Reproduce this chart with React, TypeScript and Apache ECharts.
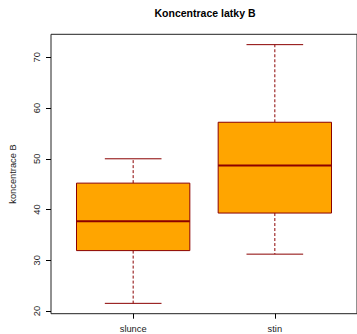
import React, { useEffect, useRef } from "react";
import * as echarts from "echarts";

const categories = ["slunce", "stin"];
const whiskerLow = [21.5, 31.2];
const quartile1 = [31.9, 39.3];
const medians = [37.7, 48.7];
const quartile3 = [45.2, 57.2];
const whiskerHigh = [50.0, 72.5];
const yTicks = [20, 30, 40, 50, 60, 70];
const xTicks = [1, 2];
const titleText = "Koncentrace latky B";
const yTitle = "koncentrace B";

const FONT = "'Liberation Sans', Arial, Helvetica, sans-serif";
const DARKRED = "#8B0000";

export default function App() {
  const ref = useRef<HTMLDivElement>(null);
  useEffect(() => {
    if (!ref.current) return;
    const chart = echarts.init(ref.current, undefined, { renderer: "svg" });
    const data = categories.map((_, i) => [
      i + 1,
      whiskerLow[i],
      quartile1[i],
      medians[i],
      quartile3[i],
      whiskerHigh[i],
    ]);
    const renderItem = (params: any, api: any) => {
      const x = api.value(0);
      const pMin = api.coord([x, api.value(1)]);
      const pQ1 = api.coord([x, api.value(2)]);
      const pMed = api.coord([x, api.value(3)]);
      const pQ3 = api.coord([x, api.value(4)]);
      const pMax = api.coord([x, api.value(5)]);
      const boxW = api.size([0.8, 0])[0];
      const cx = pMed[0];
      const hb = boxW / 2;
      const hc = boxW / 4;
      const dash = { stroke: DARKRED, lineWidth: 1, lineDash: [3, 2] };
      const solid = { stroke: DARKRED, lineWidth: 1 };
      return {
        type: "group",
        children: [
          { type: "line", shape: { x1: cx, y1: pQ1[1], x2: cx, y2: pMin[1] }, style: dash },
          { type: "line", shape: { x1: cx, y1: pQ3[1], x2: cx, y2: pMax[1] }, style: dash },
          { type: "line", shape: { x1: cx - hc, y1: pMin[1], x2: cx + hc, y2: pMin[1] }, style: solid },
          { type: "line", shape: { x1: cx - hc, y1: pMax[1], x2: cx + hc, y2: pMax[1] }, style: solid },
          {
            type: "rect",
            shape: { x: cx - hb, y: pQ3[1], width: boxW, height: pQ1[1] - pQ3[1] },
            style: { fill: "#FFA500", stroke: DARKRED, lineWidth: 1 },
          },
          {
            type: "line",
            shape: { x1: cx - hb, y1: pMed[1], x2: cx + hb, y2: pMed[1] },
            style: { stroke: DARKRED, lineWidth: 2 },
          },
        ],
      };
    };
    chart.setOption({
      animation: false,
      backgroundColor: "#ffffff",
      title: {
        text: titleText,
        left: 205,
        top: 7,
        textAlign: "center",
        padding: 0,
        textStyle: { fontFamily: FONT, fontSize: 10.5, fontWeight: "bold", color: "#000" },
      },
      grid: {
        left: 49,
        top: 34.3,
        width: 312,
        height: 279.4,
        show: true,
        borderColor: "#222",
        borderWidth: 1,
        backgroundColor: "transparent",
      },
      xAxis: {
        type: "value",
        min: 0.42,
        max: 2.58,
        axisLine: { show: false },
        splitLine: { show: false },
        axisTick: { show: true, customValues: xTicks, length: 5, lineStyle: { color: "#000" } },
        axisLabel: {
          customValues: xTicks,
          formatter: (v: number) => categories[Math.round(v) - 1] ?? "",
          fontFamily: FONT,
          fontSize: 9.3,
          color: "#222",
          margin: 11,
        },
      },
      yAxis: {
        type: "value",
        min: 19.46,
        max: 74.54,
        name: yTitle,
        nameLocation: "middle",
        nameRotate: 90,
        nameGap: 34,
        nameTextStyle: { fontFamily: FONT, fontSize: 9.3, color: "#222" },
        axisLine: { show: false },
        splitLine: { show: false },
        axisTick: { show: true, customValues: yTicks, length: 5, lineStyle: { color: "#000" } },
        axisLabel: {
          customValues: yTicks,
          rotate: 90,
          fontFamily: FONT,
          fontSize: 9.3,
          color: "#222",
          margin: 10,
        },
      },
      series: [
        {
          type: "custom",
          renderItem,
          data,
          encode: { x: 0, y: [1, 2, 3, 4, 5] },
          clip: false,
        },
      ],
    });
    return () => chart.dispose();
  }, []);
  return (
    <div
      ref={ref}
      style={{ position: "fixed", left: 0, top: 0, width: 357, height: 334 }}
    />
  );
}
